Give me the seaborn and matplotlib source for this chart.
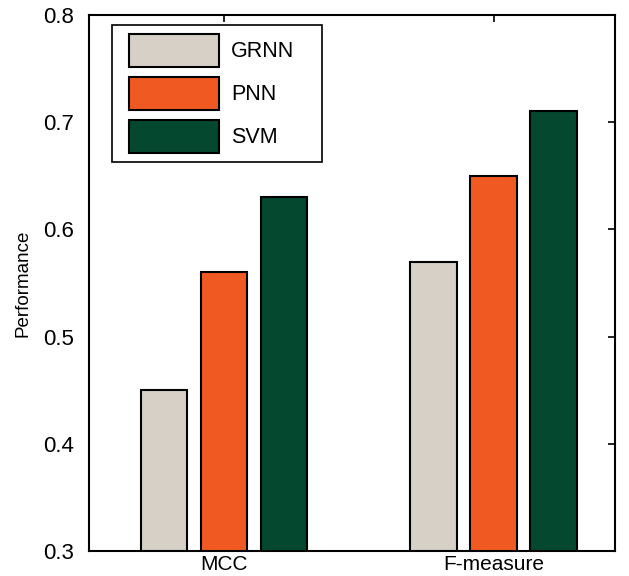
import matplotlib
matplotlib.use("Agg")
import matplotlib.pyplot as plt
import seaborn as sns
import pandas as pd
from matplotlib.patches import Patch, Rectangle
from matplotlib.legend_handler import HandlerPatch

categories = ["MCC", "F-measure"]
models = ["GRNN", "PNN", "SVM"]
grnn = [0.45, 0.57]
pnn = [0.56, 0.65]
svm = [0.63, 0.71]
colors = ["#D6D0C6", "#F05A22", "#03482F"]

rows = []
for m, vals in zip(models, [grnn, pnn, svm]):
    for c, v in zip(categories, vals):
        rows.append({"Metric": c, "Model": m, "Performance": v})
df = pd.DataFrame(rows)

sns.set_style("white")
plt.rcParams['font.family'] = ['Liberation Sans', 'DejaVu Sans']
plt.rcParams['text.color'] = 'black'
plt.rcParams['axes.labelcolor'] = 'black'

fig = plt.figure(figsize=(6.29, 5.76), dpi=100)
ax = fig.add_axes([0.1415, 0.0434, 0.8365, 0.9306])

sns.barplot(data=df, x="Metric", y="Performance", hue="Model",
            order=categories, hue_order=models, palette=colors, saturation=1,
            width=0.667, gap=0.22, edgecolor="black", linewidth=1.5,
            legend=False, ax=ax)

ax.set_ylim(0.3, 0.8)
ax.set_xlim(-0.5, 1.45)
ax.set_yticks([0.3, 0.4, 0.5, 0.6, 0.7, 0.8])
ax.set_yticklabels(["0.3", "0.4", "0.5", "0.6", "0.7", "0.8"])
ax.set_xlabel("")
ax.set_ylabel("Performance", fontsize=13.5, labelpad=8)
ax.tick_params(direction="in", top=True, right=True, length=5, width=1.2,
               labelsize=16, colors="black", pad=11)
ax.tick_params(axis="x", labelsize=15, pad=3)
for s in ax.spines.values():
    s.set_visible(True)
    s.set_color("black")
    s.set_linewidth(1.5)

OFFSET = 5.8  # points of extra left padding before the legend swatch


def make_rect(legend, orig_handle, xdescent, ydescent, width, height, fontsize):
    return Rectangle((-xdescent + OFFSET, -ydescent), width - OFFSET, height)


handles = [Patch(facecolor=c, edgecolor="black", linewidth=1.5) for c in colors]
leg = ax.legend(handles, models, loc="upper left",
                bbox_to_anchor=(0.044, 0.5, 0.399, 0.481), mode="expand",
                fontsize=15.5, handlelength=4.55, handleheight=1.97,
                labelspacing=0.46, handletextpad=0.56, borderpad=0.42,
                borderaxespad=0.0, fancybox=False, framealpha=1,
                handler_map={Patch: HandlerPatch(patch_func=make_rect)})
leg.get_frame().set_edgecolor("black")
leg.get_frame().set_linewidth(1.2)
for t in leg.get_texts():
    t.set_color("black")

fig.savefig("out.png", dpi=100)
